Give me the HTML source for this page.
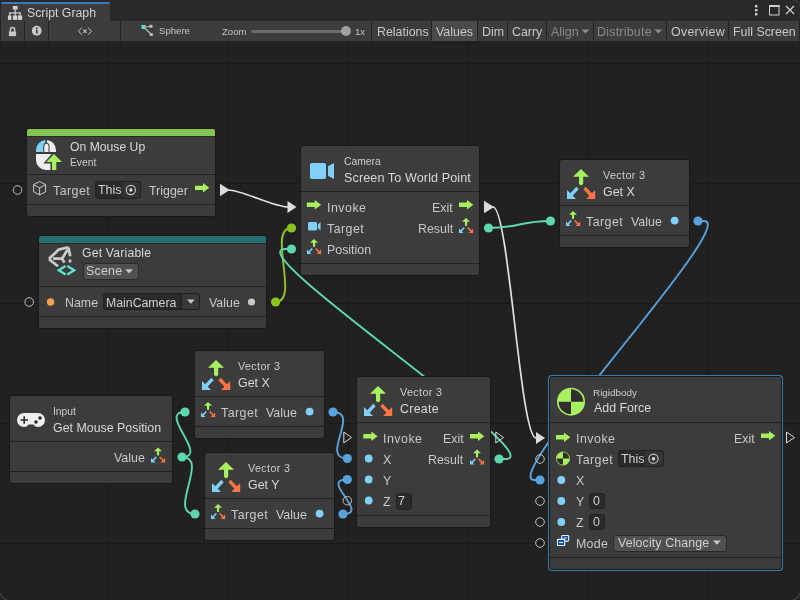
<!DOCTYPE html><html><head><meta charset="utf-8"><style>
html,body{margin:0;padding:0;width:800px;height:600px;overflow:hidden;background:#202020;font-family:"Liberation Sans", sans-serif;}
.r{position:absolute;box-sizing:border-box}
.t{position:absolute;white-space:nowrap;line-height:normal;font-family:"Liberation Sans", sans-serif;will-change:transform}
svg{position:absolute;overflow:visible}
</style></head><body>
<div class="r" style="left:0;top:41px;width:800px;height:559px;background-color:#212121;
background-image:
linear-gradient(to right, #1a1a1a 1px, transparent 1px),
linear-gradient(to bottom, #1a1a1a 1px, transparent 1px),
linear-gradient(to right, #1f1f1f 1px, transparent 1px),
linear-gradient(to bottom, #1f1f1f 1px, transparent 1px);
background-size:120px 120px,120px 120px,12px 12px,12px 12px;
background-position:108px 22px,108px 22px,0px 10px,0px 10px"></div>
<div class="r" style="left:0px;top:0px;width:800px;height:21px;background:#282828;"></div>
<div class="r" style="left:1px;top:2px;width:109px;height:19px;background:#3c3c3c;border-radius:2px 2px 0 0"></div>
<div class="r" style="left:1px;top:2px;width:109px;height:2px;background:#3a79bb;border-radius:2px 2px 0 0"></div>
<div class="t" style="left:26.8px;top:5.87px;font-size:12.3px;color:#d2d2d2;">Script Graph</div>
<div class="r" style="left:0px;top:21px;width:800px;height:20px;background:#232323;"></div>
<div class="r" style="left:1px;top:21px;width:23px;height:20px;background:#3c3c3c;"></div>
<div class="r" style="left:25px;top:21px;width:23px;height:20px;background:#3c3c3c;"></div>
<div class="r" style="left:49px;top:21px;width:71px;height:20px;background:#3c3c3c;"></div>
<div class="r" style="left:121px;top:21px;width:250px;height:20px;background:#3c3c3c;"></div>
<div class="r" style="left:372px;top:21px;width:59px;height:20px;background:#3c3c3c;"></div>
<div class="r" style="left:432px;top:21px;width:45px;height:20px;background:#4a4a4a;"></div>
<div class="r" style="left:478px;top:21px;width:29px;height:20px;background:#3c3c3c;"></div>
<div class="r" style="left:508px;top:21px;width:38px;height:20px;background:#3c3c3c;"></div>
<div class="r" style="left:547px;top:21px;width:46px;height:20px;background:#3c3c3c;"></div>
<div class="r" style="left:594px;top:21px;width:72px;height:20px;background:#3c3c3c;"></div>
<div class="r" style="left:667px;top:21px;width:61px;height:20px;background:#3c3c3c;"></div>
<div class="r" style="left:729px;top:21px;width:70px;height:20px;background:#3c3c3c;"></div>
<div class="t" style="left:159.3px;top:25.31px;font-size:9.6px;color:#c4c4c4;">Sphere</div>
<div class="t" style="left:222.3px;top:26.11px;font-size:9.6px;color:#c4c4c4;">Zoom</div>
<div class="r" style="left:251px;top:30px;width:95px;height:3px;background:#6b6b6b;border-radius:1.5px"></div>
<div class="r" style="left:341px;top:26px;width:10px;height:10px;border-radius:50%;background:#a0a0a0"></div>
<div class="t" style="left:354.8px;top:26.11px;font-size:9.6px;color:#c4c4c4;">1x</div>
<div class="t" style="left:376.5px;top:25.08px;font-size:12.4px;color:#c8c8c8;">Relations</div>
<div class="t" style="left:436.3px;top:25.08px;font-size:12.4px;color:#c8c8c8;">Values</div>
<div class="t" style="left:482.3px;top:25.08px;font-size:12.4px;color:#c8c8c8;">Dim</div>
<div class="t" style="left:512.3px;top:25.08px;font-size:12.4px;color:#c8c8c8;">Carry</div>
<div class="t" style="left:550.8px;top:25.08px;font-size:12.4px;color:#8a8a8a;">Align</div>
<div class="t" style="left:596.8px;top:25.08px;font-size:12.4px;color:#8a8a8a;letter-spacing:0.25px">Distribute</div>
<div class="t" style="left:670.8px;top:25.08px;font-size:12.4px;color:#c8c8c8;letter-spacing:0.3px">Overview</div>
<div class="t" style="left:732.5999999999999px;top:25.08px;font-size:12.4px;color:#c8c8c8;">Full Screen</div>
<svg style="left:0;top:0" width="800" height="600"><path d="M224 190 H228 C242 190 274 207 288 207 H292" fill="none" stroke="#e2e2e2" stroke-width="1.7" stroke-linecap="round"/><path d="M275.5 302 H275.5 C300.5 302 266.5 228 291.5 228 H291.5" fill="none" stroke="#8fc424" stroke-width="1.9" stroke-linecap="round"/><path d="M499.3 459 H505.3 C555.3 459 235.5 249 285.5 249 H291.5" fill="none" stroke="#5ed6b2" stroke-width="1.9" stroke-linecap="round"/><path d="M489 207 H493 C509 207 520 438 536 438 H540" fill="none" stroke="#e2e2e2" stroke-width="1.7" stroke-linecap="round"/><path d="M488.5 228 H488.5 C518.5 228 520.5 221 550.5 221 H550.5" fill="none" stroke="#5ed6b2" stroke-width="1.9" stroke-linecap="round"/><path d="M698 221 H704 C741 221 497.29999999999995 480 534.3 480 H540.3" fill="none" stroke="#5aa2dc" stroke-width="1.9" stroke-linecap="round"/><path d="M182 457 H182 C210 457 157 412 185 412 H185" fill="none" stroke="#5ed6b2" stroke-width="1.9" stroke-linecap="round"/><path d="M182 457 H182 C210 457 167 514 195 514 H195" fill="none" stroke="#5ed6b2" stroke-width="1.9" stroke-linecap="round"/><path d="M333 412 H333 C361 412 319.3 458.5 347.3 458.5 H347.3" fill="none" stroke="#5aa2dc" stroke-width="1.9" stroke-linecap="round"/><path d="M343 514 H343 C371 514 319 479.5 347 479.5 H347" fill="none" stroke="#5aa2dc" stroke-width="1.9" stroke-linecap="round"/></svg>
<div class="r" style="left:26px;top:128px;width:190px;height:89px;background:#3c3c3c;border:1px solid #191919;border-radius:3px;">
<div class="r" style="left:0;top:0;width:188px;height:87px;border-radius:2px;overflow:hidden">
<div class="r" style="left:0;top:0;width:188px;height:7px;background:#86c451"></div>
<div class="r" style="left:0;top:7px;width:188px;height:1px;background:#2a2a2a"></div>
<div class="r" style="left:0;top:45px;width:188px;height:1px;background:#222222"></div>
<div class="r" style="left:0;top:75px;width:188px;height:1px;background:#222222"></div>
</div></div>
<div class="t" style="left:70.3px;top:139.76px;font-size:12.2px;color:#d8d8d8;">On Mouse Up</div>
<div class="t" style="left:69.6px;top:157.28px;font-size:10.3px;color:#cccccc;">Event</div>
<div class="t" style="left:53.0px;top:184.28px;font-size:12.4px;color:#c8c8c8;letter-spacing:0.45px">Target</div>
<div class="r" style="left:95.4px;top:181.4px;width:45.6px;height:17.2px;background:#2a2a2a;border:1px solid #212121;border-radius:3px"></div>
<div class="r" style="left:122px;top:182.4px;width:18.0px;height:15.2px;background:#333333;border-radius:0 2px 2px 0"></div>
<div class="t" style="left:98.0px;top:183.08px;font-size:12.4px;color:#d0d0d0;">This</div>
<div class="t" style="left:148.9px;top:184.28px;font-size:12.4px;color:#c8c8c8;">Trigger</div>
<div class="r" style="left:38px;top:235px;width:229px;height:94px;background:#3c3c3c;border:1px solid #191919;border-radius:3px;">
<div class="r" style="left:0;top:0;width:227px;height:92px;border-radius:2px;overflow:hidden">
<div class="r" style="left:0;top:0;width:227px;height:7px;background:#2a6e73"></div>
<div class="r" style="left:0;top:7px;width:227px;height:1px;background:#2a2a2a"></div>
<div class="r" style="left:0;top:50px;width:227px;height:1px;background:#222222"></div>
<div class="r" style="left:0;top:80px;width:227px;height:1px;background:#222222"></div>
</div></div>
<div class="t" style="left:82.3px;top:246.26px;font-size:12.2px;color:#d8d8d8;letter-spacing:0.2px">Get Variable</div>
<div class="r" style="left:82.5px;top:262.5px;width:56px;height:17px;background:#505050;border:1px solid #2a2a2a;border-radius:3px"></div>
<div class="t" style="left:86.39999999999999px;top:263.78px;font-size:12.4px;color:#d0d0d0;letter-spacing:0.25px">Scene</div>
<div class="t" style="left:64.7px;top:296.08px;font-size:12.4px;color:#c8c8c8;">Name</div>
<div class="r" style="left:103px;top:293px;width:97px;height:17.3px;background:#2a2a2a;border:1px solid #1f1f1f;border-radius:3px"></div>
<div class="r" style="left:181.4px;top:293px;width:18.6px;height:17.3px;background:#383838;border:1px solid #1f1f1f;border-radius:0 3px 3px 0"></div>
<div class="t" style="left:106.1px;top:295.87px;font-size:12.3px;color:#d0d0d0;">MainCamera</div>
<div class="t" style="left:208.5px;top:296.08px;font-size:12.4px;color:#c8c8c8;">Value</div>
<div class="r" style="left:300px;top:145px;width:180px;height:131px;background:#3c3c3c;border:1px solid #191919;border-radius:3px;">
<div class="r" style="left:0;top:0;width:178px;height:129px;border-radius:2px;overflow:hidden">
<div class="r" style="left:0;top:45px;width:178px;height:1px;background:#222222"></div>
<div class="r" style="left:0;top:117px;width:178px;height:1px;background:#222222"></div>
</div></div>
<div class="t" style="left:343.8px;top:156.48px;font-size:10.3px;color:#cccccc;">Camera</div>
<div class="t" style="left:344.3px;top:170.60px;font-size:12.6px;color:#d8d8d8;letter-spacing:0.1px">Screen To World Point</div>
<div class="t" style="left:326.8px;top:200.78px;font-size:12.4px;color:#c8c8c8;letter-spacing:0.5px">Invoke</div>
<div class="t" style="left:326.8px;top:222.08px;font-size:12.4px;color:#c8c8c8;letter-spacing:0.45px">Target</div>
<div class="t" style="left:326.8px;top:243.28px;font-size:12.4px;color:#c8c8c8;">Position</div>
<div class="t" style="right:347.2px;top:200.78px;font-size:12.4px;color:#c8c8c8;">Exit</div>
<div class="t" style="right:347.2px;top:222.08px;font-size:12.4px;color:#c8c8c8;">Result</div>
<div class="r" style="left:559px;top:159px;width:131px;height:89px;background:#3c3c3c;border:1px solid #191919;border-radius:3px;">
<div class="r" style="left:0;top:0;width:129px;height:87px;border-radius:2px;overflow:hidden">
<div class="r" style="left:0;top:45px;width:129px;height:1px;background:#222222"></div>
<div class="r" style="left:0;top:75px;width:129px;height:1px;background:#222222"></div>
</div></div>
<div class="t" style="left:602.6999999999999px;top:169.13px;font-size:10.8px;color:#cccccc;letter-spacing:0.35px">Vector 3</div>
<div class="t" style="left:603.4px;top:185.28px;font-size:12.4px;color:#d8d8d8;">Get X</div>
<div class="t" style="left:586.3px;top:215.18px;font-size:12.4px;color:#c8c8c8;letter-spacing:0.45px">Target</div>
<div class="t" style="left:630.9px;top:215.18px;font-size:12.4px;color:#c8c8c8;">Value</div>
<div class="r" style="left:9px;top:395px;width:164px;height:89px;background:#3c3c3c;border:1px solid #191919;border-radius:3px;">
<div class="r" style="left:0;top:0;width:162px;height:87px;border-radius:2px;overflow:hidden">
<div class="r" style="left:0;top:45px;width:162px;height:1px;background:#222222"></div>
<div class="r" style="left:0;top:75px;width:162px;height:1px;background:#222222"></div>
</div></div>
<div class="t" style="left:52.599999999999994px;top:406.48px;font-size:10.3px;color:#cccccc;">Input</div>
<div class="t" style="left:53px;top:420.78px;font-size:12.4px;color:#d8d8d8;">Get Mouse Position</div>
<div class="t" style="right:655px;top:450.78px;font-size:12.4px;color:#c8c8c8;">Value</div>
<div class="r" style="left:194px;top:350px;width:131px;height:89px;background:#3c3c3c;border:1px solid #191919;border-radius:3px;">
<div class="r" style="left:0;top:0;width:129px;height:87px;border-radius:2px;overflow:hidden">
<div class="r" style="left:0;top:45px;width:129px;height:1px;background:#222222"></div>
<div class="r" style="left:0;top:75px;width:129px;height:1px;background:#222222"></div>
</div></div>
<div class="t" style="left:237.70000000000002px;top:360.13px;font-size:10.8px;color:#cccccc;letter-spacing:0.35px">Vector 3</div>
<div class="t" style="left:238.4px;top:376.28px;font-size:12.4px;color:#d8d8d8;">Get X</div>
<div class="t" style="left:221.3px;top:406.18px;font-size:12.4px;color:#c8c8c8;letter-spacing:0.45px">Target</div>
<div class="t" style="left:265.90000000000003px;top:406.18px;font-size:12.4px;color:#c8c8c8;">Value</div>
<div class="r" style="left:204px;top:452px;width:131px;height:89px;background:#3c3c3c;border:1px solid #191919;border-radius:3px;">
<div class="r" style="left:0;top:0;width:129px;height:87px;border-radius:2px;overflow:hidden">
<div class="r" style="left:0;top:45px;width:129px;height:1px;background:#222222"></div>
<div class="r" style="left:0;top:75px;width:129px;height:1px;background:#222222"></div>
</div></div>
<div class="t" style="left:247.70000000000002px;top:462.13px;font-size:10.8px;color:#cccccc;letter-spacing:0.35px">Vector 3</div>
<div class="t" style="left:248.4px;top:478.28px;font-size:12.4px;color:#d8d8d8;">Get Y</div>
<div class="t" style="left:231.3px;top:508.18px;font-size:12.4px;color:#c8c8c8;letter-spacing:0.45px">Target</div>
<div class="t" style="left:275.90000000000003px;top:508.18px;font-size:12.4px;color:#c8c8c8;">Value</div>
<div class="r" style="left:356px;top:376px;width:135px;height:152px;background:#3c3c3c;border:1px solid #191919;border-radius:3px;">
<div class="r" style="left:0;top:0;width:133px;height:150px;border-radius:2px;overflow:hidden">
<div class="r" style="left:0;top:45px;width:133px;height:1px;background:#222222"></div>
<div class="r" style="left:0;top:138px;width:133px;height:1px;background:#222222"></div>
</div></div>
<div class="t" style="left:400.3px;top:386.13px;font-size:10.8px;color:#cccccc;letter-spacing:0.35px">Vector 3</div>
<div class="t" style="left:400.3px;top:401.78px;font-size:12.4px;color:#d8d8d8;letter-spacing:0.3px">Create</div>
<div class="t" style="left:382.6px;top:431.58px;font-size:12.4px;color:#c8c8c8;letter-spacing:0.5px">Invoke</div>
<div class="t" style="left:382.6px;top:452.58px;font-size:12.4px;color:#c8c8c8;">X</div>
<div class="t" style="left:382.6px;top:473.58px;font-size:12.4px;color:#c8c8c8;">Y</div>
<div class="t" style="left:382.6px;top:494.58px;font-size:12.4px;color:#c8c8c8;">Z</div>
<div class="r" style="left:396px;top:493px;width:16px;height:16.5px;background:#2a2a2a;border:1px solid #212121;border-radius:3px"></div>
<div class="t" style="left:398.3px;top:494.33px;font-size:12.4px;color:#d0d0d0;">7</div>
<div class="t" style="right:336.7px;top:431.58px;font-size:12.4px;color:#c8c8c8;">Exit</div>
<div class="t" style="right:336.7px;top:452.58px;font-size:12.4px;color:#c8c8c8;">Result</div>
<div class="r" style="left:549px;top:376px;width:233px;height:194px;background:#3c3c3c;border:1px solid #191919;border-radius:3px;box-shadow:0 0 0 1px #3a7cab;">
<div class="r" style="left:0;top:0;width:231px;height:192px;border-radius:2px;overflow:hidden">
<div class="r" style="left:0;top:45px;width:231px;height:1px;background:#222222"></div>
<div class="r" style="left:0;top:180px;width:231px;height:1px;background:#222222"></div>
</div></div>
<div class="t" style="left:592.9px;top:387.04px;font-size:9.9px;color:#cccccc;">Rigidbody</div>
<div class="t" style="left:593.6px;top:401.38px;font-size:12.4px;color:#d8d8d8;">Add Force</div>
<div class="t" style="left:575.6999999999999px;top:432.08px;font-size:12.4px;color:#c8c8c8;letter-spacing:0.5px">Invoke</div>
<div class="t" style="left:575.6999999999999px;top:453.08px;font-size:12.4px;color:#c8c8c8;letter-spacing:0.45px">Target</div>
<div class="r" style="left:618.4px;top:450px;width:45.2px;height:17.4px;background:#2a2a2a;border:1px solid #212121;border-radius:3px"></div>
<div class="r" style="left:645px;top:451px;width:17.600000000000023px;height:15.399999999999999px;background:#333333;border-radius:0 2px 2px 0"></div>
<div class="t" style="left:620.9999999999999px;top:451.78px;font-size:12.4px;color:#d0d0d0;">This</div>
<div class="t" style="left:575.6999999999999px;top:474.08px;font-size:12.4px;color:#c8c8c8;">X</div>
<div class="t" style="left:575.6999999999999px;top:495.08px;font-size:12.4px;color:#c8c8c8;">Y</div>
<div class="r" style="left:589px;top:492.7px;width:15.5px;height:16.5px;background:#2a2a2a;border:1px solid #212121;border-radius:3px"></div>
<div class="t" style="left:592.5999999999999px;top:494.03px;font-size:12.4px;color:#d0d0d0;">0</div>
<div class="t" style="left:575.6999999999999px;top:516.08px;font-size:12.4px;color:#c8c8c8;">Z</div>
<div class="r" style="left:589px;top:513.7px;width:15.5px;height:16.5px;background:#2a2a2a;border:1px solid #212121;border-radius:3px"></div>
<div class="t" style="left:592.5999999999999px;top:515.03px;font-size:12.4px;color:#d0d0d0;">0</div>
<div class="t" style="left:576.1999999999999px;top:537.08px;font-size:12.4px;color:#c8c8c8;letter-spacing:0.3px">Mode</div>
<div class="r" style="left:613px;top:534.5px;width:113.5px;height:17px;background:#505050;border:1px solid #2a2a2a;border-radius:3px"></div>
<div class="t" style="left:617.5999999999999px;top:535.78px;font-size:12.4px;color:#d0d0d0;letter-spacing:0.12px">Velocity Change</div>
<div class="t" style="right:45px;top:432.08px;font-size:12.4px;color:#c8c8c8;">Exit</div>
<svg style="left:0;top:0" width="800" height="600"><g transform="translate(0.000 0.000)"><g fill="#d2d2d2">
<rect x="12.8" y="6" width="4.8" height="3.6"/><rect x="14.6" y="9.6" width="1.2" height="3"/>
<rect x="9.2" y="12.4" width="11.6" height="1.2"/><rect x="9.2" y="12.4" width="1.2" height="3.2"/><rect x="19.6" y="12.4" width="1.2" height="3.2"/><rect x="14.6" y="12.4" width="1.2" height="3.2"/>
<rect x="7.9" y="15.4" width="3.5" height="4.5"/><rect x="12.9" y="15.4" width="4.4" height="4.5"/><rect x="18" y="15.4" width="4.1" height="4.5"/>
</g></g>
<g transform="translate(0.000 0.000)">
<g fill="#d0d0d0"><rect x="755" y="5" width="2.4" height="2.4"/><rect x="755" y="9" width="2.4" height="2.4"/><rect x="755" y="13" width="2.4" height="2.4"/></g>
<rect x="769.5" y="5.5" width="9.5" height="9.5" fill="none" stroke="#d0d0d0" stroke-width="1"/><rect x="769" y="5" width="10.5" height="2" fill="#d0d0d0"/>
<path d="M786 6 L794 14 M794 6 L786 14" stroke="#d0d0d0" stroke-width="1.3"/>
<path d="M793.5 0.3 A7 7 0 0 1 799.7 7" fill="none" stroke="#3c3c3c" stroke-width="1.6"/>
</g>
<g transform="translate(0.000 21.000)">
<path d="M10.4 10.8 V8.6 A2.1 2.1 0 0 1 14.6 8.6 V10.8" fill="none" stroke="#c8c8c8" stroke-width="1.5"/>
<rect x="8.9" y="10.5" width="7.2" height="4.6" fill="#c8c8c8"/>
<circle cx="36.75" cy="9.75" r="4.9" fill="#c8c8c8"/>
<rect x="36" y="8.7" width="1.6" height="3.8" fill="#3c3c3c"/><rect x="36" y="6.4" width="1.6" height="1.5" fill="#3c3c3c"/>
</g>
<g transform="translate(70.000 21.000)">
<path d="M12 6.5 L8.5 10.2 L12 13.8 M18 6.5 L21.5 10.2 L18 13.8" fill="none" stroke="#c8c8c8" stroke-width="1"/>
<path d="M13.3 8.7 L16.5 11.8 M16.5 8.7 L13.3 11.8" fill="none" stroke="#c8c8c8" stroke-width="1.1"/>
</g>
<g transform="translate(136.000 21.000)">
<path d="M7.5 6 L15.5 5.5 M7.5 6 L15.5 13.5" stroke="#bdbdbd" stroke-width="1.2"/>
<rect x="5.5" y="4" width="4" height="4" fill="#5fd9c2"/>
<rect x="13.5" y="3.8" width="3" height="3" fill="#bdbdbd"/><rect x="13.8" y="12" width="3" height="3" fill="#bdbdbd"/>
</g>
<g transform="translate(0.000 21.000)"><g fill="#8a8a8a">
<path d="M581.5 8.5 L589.5 8.5 L585.5 12.5Z"/><path d="M654.3 8.5 L662.3 8.5 L658.3 12.5Z"/></g></g>
<g transform="translate(36.000 140.000) scale(1.0000 1.0000) translate(-0.0 -0.0)">
<path d="M0 12 V10 A10 10 0 0 1 9.3 0 V2.8 Q7.3 3.3 7.3 6 V12Z" fill="#80d0f8"/>
<path d="M11 0 A10 10 0 0 1 20 10 V12 H13.5 V6 Q13.5 3.3 11 2.8Z" fill="#eeeeee"/>
<path d="M8.3 12 V6.5 Q8.3 3.8 10.4 3.8 Q12.5 3.8 12.5 6.5 V12Z" fill="#eeeeee"/>
<path d="M0 14 H15.6 L7.4 23.6 H14.4 V30 H10 A10 10 0 0 1 0 20Z" fill="#eeeeee"/>
<path d="M18 14 L26 22 H20.3 V30 H16 V22 H10.2Z" fill="#a8f060" stroke="#3c3c3c" stroke-width="0"/>
</g>
<g transform="translate(33.000 181.000) scale(1.0000 1.0000) translate(-0.0 -0.0)">
<path d="M6.6 0.6 L12.6 3.6 V10.8 L6.6 13.9 L0.6 10.8 V3.6Z M0.6 3.6 L6.6 6.9 L12.6 3.6 M6.6 6.9 V13.9" fill="none" stroke="#c8c8c8" stroke-width="1" stroke-linejoin="round"/></g>
<g transform="translate(124.850 184.000)"><circle cx="6" cy="6" r="4.6" fill="none" stroke="#c8c8c8" stroke-width="1.1"/><circle cx="6" cy="6" r="1.7" fill="#d8d8d8"/></g>
<g transform="translate(195.000 183.100) scale(1.0000 1.0000) translate(-0.0 -0.0)">
<path d="M0 2.6 H8 V0 L14.3 4.75 L8 9.5 V6.9 H0Z" fill="#a8f060"/></g>
<g transform="translate(12.200 184.700)"><circle cx="5.3" cy="5.3" r="4.3" fill="none" stroke="#c0c0c0" stroke-width="1"/></g>
<g transform="translate(220.000 183.850)"><path d="M0 0 L9.7 6.15 L0 12.3Z" fill="#dcdcdc"/></g>
<g transform="translate(47.000 246.000) scale(1.0000 1.0000) translate(-0.0 -0.0)">
<path d="M2 12.7 L9 6.2 L11.5 3.6 L21.5 1.3 M2 13.3 L11 20.3 M6 12.7 H15 L20.5 3.8 M15 12.7 L17.5 16.5 M21.5 1.5 L23.2 10.3 M23 13.6 V16.6" fill="none" stroke="#cccccc" stroke-width="2.7" stroke-linejoin="round"/>
<path d="M18.6 20 L11.7 24.3 L18.6 28.6 M20.3 20 L27.2 24.3 L20.3 28.6" fill="none" stroke="#5ee6cf" stroke-width="2.3"/>
</g>
<g transform="translate(125.200 269.200)"><path d="M0 0 H7.8 L3.9 4.2Z" fill="#c8c8c8"/></g>
<g transform="translate(23.900 296.700)"><circle cx="5.3" cy="5.3" r="4.3" fill="none" stroke="#c0c0c0" stroke-width="1"/></g>
<circle cx="50.6" cy="302" r="3.7" fill="#f5a052"/>
<g transform="translate(187.000 299.500)"><path d="M0 0 H7.8 L3.9 4.2Z" fill="#c8c8c8"/></g>
<circle cx="251.5" cy="302" r="3.6" fill="#c8c8c8"/>
<circle cx="275.6" cy="302" r="4.6" fill="#8dc31e"/>
<g transform="translate(310.000 163.000) scale(1.0000 1.0000) translate(-0.0 -0.0)">
<rect x="0" y="0" width="16" height="16" rx="1.8" fill="#80d0f8"/><path d="M18 3.2 L24 0 V16 L18 12.8Z" fill="#80d0f8"/></g>
<g transform="translate(306.800 200.000) scale(1.0000 1.0000) translate(-0.0 -0.0)">
<path d="M0 2.6 H8 V0 L14.3 4.75 L8 9.5 V6.9 H0Z" fill="#a8f060"/></g>
<g transform="translate(308.000 222.000) scale(1.0000 1.0000) translate(-0.0 -0.0)">
<rect x="0" y="0" width="9" height="8.5" rx="1.2" fill="#80d0f8"/><path d="M9.8 2.6 L12.5 0 V8.5 L9.8 6Z" fill="#80d0f8"/></g>
<g transform="translate(307.000 239.000) scale(0.5000 0.5000) translate(-0.0 -0.0)">
<path d="M14 0 L22 7.7 L16.2 7.7 L16.2 15 L14.1 16.6 L12 15 L12 7.7 L6 7.7Z" fill="#a8f060"/>
<path d="M0 21 L0 30 L9 30Z" fill="#80d0f8"/><path d="M3.5 26.5 L10.5 19" stroke="#80d0f8" stroke-width="3.3"/>
<path d="M28.2 21 L28.2 30 L19.2 30Z" fill="#ff7443"/><path d="M24.7 26.5 L17.5 19" stroke="#ff7443" stroke-width="3.3"/>
</g>
<g transform="translate(459.000 200.000) scale(1.0000 1.0000) translate(-0.0 -0.0)">
<path d="M0 2.6 H8 V0 L14.3 4.75 L8 9.5 V6.9 H0Z" fill="#a8f060"/></g>
<g transform="translate(459.000 218.000) scale(0.5000 0.5000) translate(-0.0 -0.0)">
<path d="M14 0 L22 7.7 L16.2 7.7 L16.2 15 L14.1 16.6 L12 15 L12 7.7 L6 7.7Z" fill="#a8f060"/>
<path d="M0 21 L0 30 L9 30Z" fill="#80d0f8"/><path d="M3.5 26.5 L10.5 19" stroke="#80d0f8" stroke-width="3.3"/>
<path d="M28.2 21 L28.2 30 L19.2 30Z" fill="#ff7443"/><path d="M24.7 26.5 L17.5 19" stroke="#ff7443" stroke-width="3.3"/>
</g>
<g transform="translate(287.500 201.000)"><path d="M0 0 L9 6.0 L0 12Z" fill="#dcdcdc"/></g>
<circle cx="291.5" cy="228" r="4.6" fill="#8dc31e"/>
<circle cx="291.5" cy="249" r="4.6" fill="#5ed6b2"/>
<g transform="translate(484.000 200.750)"><path d="M0 0 L10 6.25 L0 12.5Z" fill="#dcdcdc"/></g>
<circle cx="488.5" cy="228" r="4.6" fill="#5ed6b2"/>
<g transform="translate(567.000 169.000) scale(1.0000 1.0000) translate(-0.0 -0.0)">
<path d="M14 0 L22 7.7 L16.2 7.7 L16.2 15 L14.1 16.6 L12 15 L12 7.7 L6 7.7Z" fill="#a8f060"/>
<path d="M0 21 L0 30 L9 30Z" fill="#80d0f8"/><path d="M3.5 26.5 L10.5 19" stroke="#80d0f8" stroke-width="3.3"/>
<path d="M28.2 21 L28.2 30 L19.2 30Z" fill="#ff7443"/><path d="M24.7 26.5 L17.5 19" stroke="#ff7443" stroke-width="3.3"/>
</g>
<g transform="translate(566.000 211.000) scale(0.5000 0.5000) translate(-0.0 -0.0)">
<path d="M14 0 L22 7.7 L16.2 7.7 L16.2 15 L14.1 16.6 L12 15 L12 7.7 L6 7.7Z" fill="#a8f060"/>
<path d="M0 21 L0 30 L9 30Z" fill="#80d0f8"/><path d="M3.5 26.5 L10.5 19" stroke="#80d0f8" stroke-width="3.3"/>
<path d="M28.2 21 L28.2 30 L19.2 30Z" fill="#ff7443"/><path d="M24.7 26.5 L17.5 19" stroke="#ff7443" stroke-width="3.3"/>
</g>
<circle cx="674.6" cy="220.6" r="3.9" fill="#80d0f8"/>
<circle cx="550.5" cy="221" r="4.6" fill="#5ed6b2"/>
<circle cx="698" cy="221" r="4.6" fill="#5aa2dc"/>
<g transform="translate(17.000 412.000) scale(1.0000 1.0000) translate(-0.0 -0.0)">
<path d="M7 1 H21 A7 7 0 0 1 21 15 Q18 15 16.5 12.5 H11.5 Q10 15 7 15 A7 7 0 0 1 7 1Z" fill="#eeeeee"/>
<path d="M3.5 8 H11 M7.2 4.2 V11.8" stroke="#2a2a2a" stroke-width="1.6"/>
<circle cx="23" cy="6" r="1.8" fill="#2a2a2a"/><circle cx="19" cy="10" r="1.8" fill="#2a2a2a"/></g>
<g transform="translate(151.000 447.500) scale(0.5000 0.5000) translate(-0.0 -0.0)">
<path d="M14 0 L22 7.7 L16.2 7.7 L16.2 15 L14.1 16.6 L12 15 L12 7.7 L6 7.7Z" fill="#a8f060"/>
<path d="M0 21 L0 30 L9 30Z" fill="#80d0f8"/><path d="M3.5 26.5 L10.5 19" stroke="#80d0f8" stroke-width="3.3"/>
<path d="M28.2 21 L28.2 30 L19.2 30Z" fill="#ff7443"/><path d="M24.7 26.5 L17.5 19" stroke="#ff7443" stroke-width="3.3"/>
</g>
<circle cx="182" cy="457" r="4.6" fill="#5ed6b2"/>
<g transform="translate(202.000 360.000) scale(1.0000 1.0000) translate(-0.0 -0.0)">
<path d="M14 0 L22 7.7 L16.2 7.7 L16.2 15 L14.1 16.6 L12 15 L12 7.7 L6 7.7Z" fill="#a8f060"/>
<path d="M0 21 L0 30 L9 30Z" fill="#80d0f8"/><path d="M3.5 26.5 L10.5 19" stroke="#80d0f8" stroke-width="3.3"/>
<path d="M28.2 21 L28.2 30 L19.2 30Z" fill="#ff7443"/><path d="M24.7 26.5 L17.5 19" stroke="#ff7443" stroke-width="3.3"/>
</g>
<g transform="translate(201.000 402.000) scale(0.5000 0.5000) translate(-0.0 -0.0)">
<path d="M14 0 L22 7.7 L16.2 7.7 L16.2 15 L14.1 16.6 L12 15 L12 7.7 L6 7.7Z" fill="#a8f060"/>
<path d="M0 21 L0 30 L9 30Z" fill="#80d0f8"/><path d="M3.5 26.5 L10.5 19" stroke="#80d0f8" stroke-width="3.3"/>
<path d="M28.2 21 L28.2 30 L19.2 30Z" fill="#ff7443"/><path d="M24.7 26.5 L17.5 19" stroke="#ff7443" stroke-width="3.3"/>
</g>
<circle cx="309.6" cy="411.6" r="3.9" fill="#80d0f8"/>
<circle cx="185" cy="412" r="4.6" fill="#5ed6b2"/>
<circle cx="333" cy="412" r="4.6" fill="#5aa2dc"/>
<g transform="translate(212.000 462.000) scale(1.0000 1.0000) translate(-0.0 -0.0)">
<path d="M14 0 L22 7.7 L16.2 7.7 L16.2 15 L14.1 16.6 L12 15 L12 7.7 L6 7.7Z" fill="#a8f060"/>
<path d="M0 21 L0 30 L9 30Z" fill="#80d0f8"/><path d="M3.5 26.5 L10.5 19" stroke="#80d0f8" stroke-width="3.3"/>
<path d="M28.2 21 L28.2 30 L19.2 30Z" fill="#ff7443"/><path d="M24.7 26.5 L17.5 19" stroke="#ff7443" stroke-width="3.3"/>
</g>
<g transform="translate(211.000 504.000) scale(0.5000 0.5000) translate(-0.0 -0.0)">
<path d="M14 0 L22 7.7 L16.2 7.7 L16.2 15 L14.1 16.6 L12 15 L12 7.7 L6 7.7Z" fill="#a8f060"/>
<path d="M0 21 L0 30 L9 30Z" fill="#80d0f8"/><path d="M3.5 26.5 L10.5 19" stroke="#80d0f8" stroke-width="3.3"/>
<path d="M28.2 21 L28.2 30 L19.2 30Z" fill="#ff7443"/><path d="M24.7 26.5 L17.5 19" stroke="#ff7443" stroke-width="3.3"/>
</g>
<circle cx="319.6" cy="513.6" r="3.9" fill="#80d0f8"/>
<circle cx="195" cy="514" r="4.6" fill="#5ed6b2"/>
<circle cx="343" cy="514" r="4.6" fill="#5aa2dc"/>
<g transform="translate(364.000 386.000) scale(1.0000 1.0000) translate(-0.0 -0.0)">
<path d="M14 0 L22 7.7 L16.2 7.7 L16.2 15 L14.1 16.6 L12 15 L12 7.7 L6 7.7Z" fill="#a8f060"/>
<path d="M0 21 L0 30 L9 30Z" fill="#80d0f8"/><path d="M3.5 26.5 L10.5 19" stroke="#80d0f8" stroke-width="3.3"/>
<path d="M28.2 21 L28.2 30 L19.2 30Z" fill="#ff7443"/><path d="M24.7 26.5 L17.5 19" stroke="#ff7443" stroke-width="3.3"/>
</g>
<g transform="translate(363.300 431.500) scale(1.0000 1.0000) translate(-0.0 -0.0)">
<path d="M0 2.6 H8 V0 L14.3 4.75 L8 9.5 V6.9 H0Z" fill="#a8f060"/></g>
<circle cx="368.7" cy="458.5" r="3.9" fill="#80d0f8"/>
<circle cx="368.7" cy="479.5" r="3.9" fill="#80d0f8"/>
<circle cx="368.7" cy="500.5" r="3.9" fill="#80d0f8"/>
<g transform="translate(470.000 431.500) scale(1.0000 1.0000) translate(-0.0 -0.0)">
<path d="M0 2.6 H8 V0 L14.3 4.75 L8 9.5 V6.9 H0Z" fill="#a8f060"/></g>
<g transform="translate(470.000 449.500) scale(0.5000 0.5000) translate(-0.0 -0.0)">
<path d="M14 0 L22 7.7 L16.2 7.7 L16.2 15 L14.1 16.6 L12 15 L12 7.7 L6 7.7Z" fill="#a8f060"/>
<path d="M0 21 L0 30 L9 30Z" fill="#80d0f8"/><path d="M3.5 26.5 L10.5 19" stroke="#80d0f8" stroke-width="3.3"/>
<path d="M28.2 21 L28.2 30 L19.2 30Z" fill="#ff7443"/><path d="M24.7 26.5 L17.5 19" stroke="#ff7443" stroke-width="3.3"/>
</g>
<g transform="translate(343.300 431.250)"><path d="M0.5 0.8 L8.2 6.25 L0.5 11.7Z" fill="none" stroke="#dcdcdc" stroke-width="1"/></g>
<circle cx="347.3" cy="458.5" r="4.6" fill="#5aa2dc"/>
<circle cx="347.3" cy="479.5" r="4.6" fill="#5aa2dc"/>
<g transform="translate(342.000 495.400)"><circle cx="5.3" cy="5.3" r="4.3" fill="none" stroke="#c0c0c0" stroke-width="1"/></g>
<g transform="translate(495.300 431.250)"><path d="M0.5 0.8 L8.2 6.25 L0.5 11.7Z" fill="none" stroke="#dcdcdc" stroke-width="1"/></g>
<circle cx="499" cy="459" r="4.6" fill="#5ed6b2"/>
<g transform="translate(557.000 387.700) scale(1.0000 1.0000) translate(14.0 14.0)">
<circle cx="0" cy="0" r="13.2" fill="#2e2e2e" stroke="#a8f060" stroke-width="1.6"/>
<path d="M0 0 H-13.2 A13.2 13.2 0 0 1 0 -13.2Z" fill="#a8f060"/><path d="M0 0 H13.2 A13.2 13.2 0 0 1 0 13.2Z" fill="#a8f060"/>
</g>
<g transform="translate(556.000 432.500) scale(1.0000 1.0000) translate(-0.0 -0.0)">
<path d="M0 2.6 H8 V0 L14.3 4.75 L8 9.5 V6.9 H0Z" fill="#a8f060"/></g>
<g transform="translate(556.000 451.500) scale(0.5000 0.5000) translate(14.0 14.0)">
<circle cx="0" cy="0" r="13.2" fill="#2e2e2e" stroke="#a8f060" stroke-width="1.6"/>
<path d="M0 0 H-13.2 A13.2 13.2 0 0 1 0 -13.2Z" fill="#a8f060"/><path d="M0 0 H13.2 A13.2 13.2 0 0 1 0 13.2Z" fill="#a8f060"/>
</g>
<g transform="translate(647.500 452.700)"><circle cx="6" cy="6" r="4.6" fill="none" stroke="#c8c8c8" stroke-width="1.1"/><circle cx="6" cy="6" r="1.7" fill="#d8d8d8"/></g>
<circle cx="561.3" cy="480" r="3.9" fill="#80d0f8"/>
<circle cx="561.3" cy="501" r="3.9" fill="#80d0f8"/>
<circle cx="561.3" cy="522" r="3.9" fill="#80d0f8"/>
<g transform="translate(556.000 534.000) scale(1.0000 1.0000) translate(-0.0 -0.0)">
<rect x="5.75" y="1.5" width="6.9" height="5.6" rx="0.8" fill="#0d4ea6" stroke="#f0f0f0" stroke-width="1.1"/>
<rect x="1.5" y="5.4" width="7.2" height="6.1" rx="0.5" fill="#0d4ea6" stroke="#f0f0f0" stroke-width="1.1"/>
<path d="M3.2 8.5 H7 M7.6 4 H11" stroke="#f0f0f0" stroke-width="1"/></g>
<g transform="translate(713.000 540.500)"><path d="M0 0 H7.8 L3.9 4.2Z" fill="#c8c8c8"/></g>
<g transform="translate(761.000 431.000) scale(1.0000 1.0000) translate(-0.0 -0.0)">
<path d="M0 2.6 H8 V0 L14.3 4.75 L8 9.5 V6.9 H0Z" fill="#a8f060"/></g>
<g transform="translate(536.000 432.000)"><path d="M0 0 L9 6.0 L0 12Z" fill="#dcdcdc"/></g>
<g transform="translate(534.700 453.700)"><circle cx="5.3" cy="5.3" r="4.3" fill="none" stroke="#c0c0c0" stroke-width="1"/></g>
<circle cx="540" cy="480" r="4.6" fill="#5aa2dc"/>
<g transform="translate(534.700 495.700)"><circle cx="5.3" cy="5.3" r="4.3" fill="none" stroke="#c0c0c0" stroke-width="1"/></g>
<g transform="translate(534.700 516.700)"><circle cx="5.3" cy="5.3" r="4.3" fill="none" stroke="#c0c0c0" stroke-width="1"/></g>
<g transform="translate(534.700 537.700)"><circle cx="5.3" cy="5.3" r="4.3" fill="none" stroke="#c0c0c0" stroke-width="1"/></g>
<g transform="translate(786.000 431.250)"><path d="M0.5 0.8 L8.5 6.25 L0.5 11.7Z" fill="none" stroke="#dcdcdc" stroke-width="1"/></g>
<path d="M0.4 592.6 A7.2 7.2 0 0 0 7.4 599.7 M799.6 592.6 A7.2 7.2 0 0 1 792.6 599.7" fill="none" stroke="#3e3e3e" stroke-width="1.6"/></svg>
</body></html>
